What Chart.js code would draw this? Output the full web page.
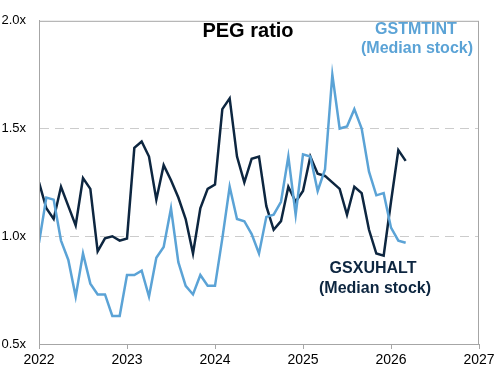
<!DOCTYPE html>
<html>
<head>
<meta charset="utf-8">
<script src="https://cdn.jsdelivr.net/npm/chart.js@4/dist/chart.umd.min.js"></script>
<style>
  html, body { margin: 0; padding: 0; background: #fff; }
  #wrap { width: 500px; height: 372px; }
</style>
</head>
<body>
<div id="wrap"><canvas id="peg"></canvas></div>
<script>
// monthly, starting Jan 2022
var startYear = 2022;
var years = [2022, 2023, 2024, 2025, 2026, 2027];
var yTicks = [0.5, 1.0, 1.5, 2.0];

var gsxuhalt = [1.25, 1.13, 1.08, 1.23, 1.14, 1.05, 1.27, 1.22, 0.93, 0.99, 1.00, 0.98,
                0.99, 1.41, 1.44, 1.37, 1.17, 1.33, 1.26, 1.18, 1.08, 0.92, 1.13, 1.22,
                1.24, 1.59, 1.64, 1.37, 1.25, 1.36, 1.37, 1.14, 1.03, 1.07, 1.23, 1.16,
                1.21, 1.37, 1.29, 1.28, 1.25, 1.22, 1.10, 1.23, 1.20, 1.03, 0.92, 0.91,
                1.16, 1.40, 1.35];

var gstmtint = [0.97, 1.18, 1.17, 0.98, 0.89, 0.72, 0.92, 0.78, 0.73, 0.73, 0.63, 0.63,
                0.82, 0.82, 0.84, 0.72, 0.90, 0.95, 1.13, 0.88, 0.77, 0.73, 0.82, 0.77,
                0.77, 0.99, 1.23, 1.08, 1.07, 1.01, 0.92, 1.09, 1.10, 1.16, 1.37, 1.10,
                1.38, 1.37, 1.21, 1.31, 1.75, 1.50, 1.51, 1.59, 1.50, 1.30, 1.19, 1.20,
                1.04, 0.98, 0.97];

var dark = '#0d2640';
var light = '#5ba3d6';

function toPoints(arr) {
    return arr.map(function (v, i) { return { x: startYear + i / 12, y: v }; });
}

// frame, title and series labels
var extras = {
    id: 'extras',
    afterDraw: function (chart) {
        var ctx = chart.ctx, a = chart.chartArea;
        ctx.save();
        ctx.strokeStyle = '#a6a6a6';
        ctx.lineWidth = 1;
        ctx.strokeRect(a.left + 0.5, a.top + 0.5, a.right - a.left - 1, a.bottom - a.top);

        ctx.textAlign = 'center';
        ctx.textBaseline = 'middle';
        ctx.fillStyle = '#000';
        ctx.font = 'bold 20px "Liberation Sans", Arial, sans-serif';
        ctx.fillText('PEG ratio', 248, 31);

        ctx.font = 'bold 16px "Liberation Sans", Arial, sans-serif';
        ctx.fillStyle = light;
        ctx.fillText('GSTMTINT', 416, 30);
        ctx.fillText('(Median stock)', 417, 49);
        ctx.fillStyle = dark;
        ctx.fillText('GSXUHALT', 373, 269);
        ctx.fillText('(Median stock)', 375, 289);
        ctx.restore();
    }
};

new Chart(document.getElementById('peg'), {
    type: 'line',
    data: {
        datasets: [
            { label: 'GSTMTINT', data: toPoints(gstmtint), borderColor: light, borderWidth: 2.5,
              pointRadius: 0, tension: 0, fill: false },
            { label: 'GSXUHALT', data: toPoints(gsxuhalt), borderColor: dark, borderWidth: 2.5,
              pointRadius: 0, tension: 0, fill: false }
        ]
    },
    options: {
        responsive: true,
        maintainAspectRatio: false,
        animation: false,
        layout: { padding: { top: 12, right: 21, left: 0, bottom: 0 } },
        plugins: { legend: { display: false }, tooltip: { enabled: false } },
        scales: {
            x: {
                type: 'linear',
                min: years[0],
                max: years[years.length - 1],
                afterBuildTicks: function (s) { s.ticks = years.map(function (y) { return { value: y }; }); },
                afterFit: function (s) { s.height = 28; },
                grid: { drawOnChartArea: false, drawTicks: true, tickLength: 5, color: '#a6a6a6' },
                border: { color: '#a6a6a6' },
                ticks: {
                    color: '#000',
                    padding: 3,
                    maxRotation: 0,
                    font: { family: '"Liberation Sans", Arial, sans-serif', size: 14 },
                    callback: function (v) { return String(v); }
                }
            },
            y: {
                min: yTicks[0],
                max: yTicks[yTicks.length - 1],
                afterBuildTicks: function (s) { s.ticks = yTicks.map(function (y) { return { value: y }; }); },
                afterFit: function (s) { s.width = 39; },
                grid: {
                    drawTicks: false,
                    color: function (c) {
                        var v = c.tick && c.tick.value;
                        return (v === yTicks[0] || v === yTicks[yTicks.length - 1]) ? 'rgba(0,0,0,0)' : '#cccccc';
                    }
                },
                border: { color: '#a6a6a6', dash: [9, 6] },
                ticks: {
                    color: '#000',
                    padding: 13,
                    font: { family: '"Liberation Sans", Arial, sans-serif', size: 13 },
                    callback: function (v) { return v.toFixed(1) + 'x'; }
                }
            }
        }
    },
    plugins: [extras]
});
</script>
</body>
</html>
